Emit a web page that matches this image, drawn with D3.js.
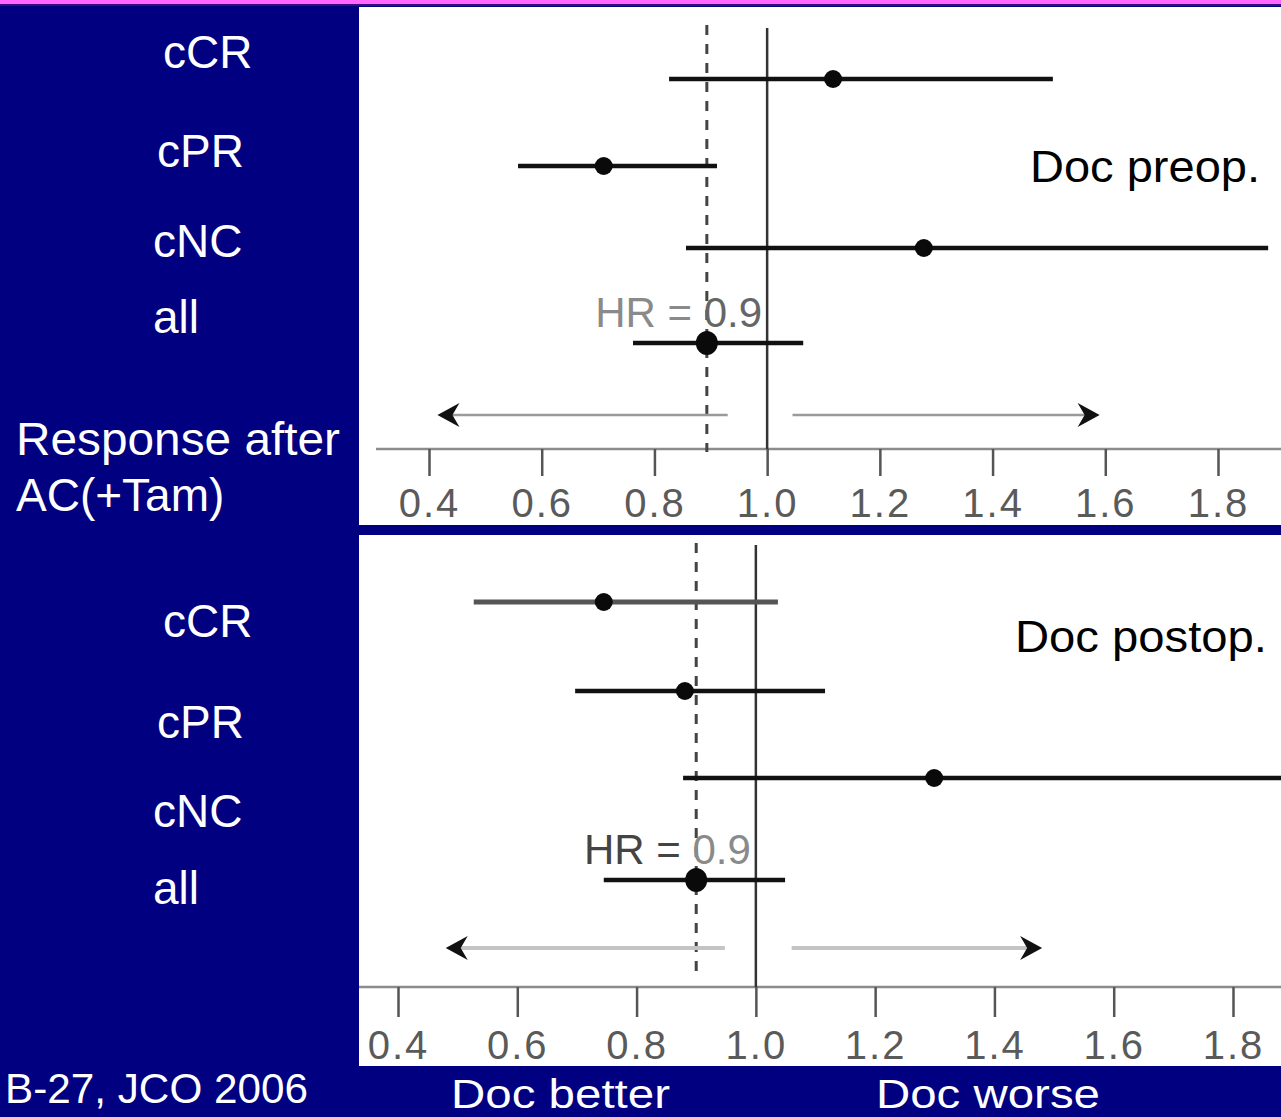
<!DOCTYPE html>
<html><head><meta charset="utf-8">
<script src="https://cdn.jsdelivr.net/npm/d3@7"></script>
<style>
html,body{margin:0;padding:0;background:#000080;overflow:hidden}
svg{display:block}
text{font-family:"Liberation Sans",Arial,sans-serif}
</style></head>
<body>
<script>
// ---- data ----
const categories = ["cCR", "cPR", "cNC", "all"];
const preopHR  = [1.117, 0.710, 1.278, 0.893];
const preopLo  = [0.826, 0.558, 0.856, 0.762];
const preopHi  = [1.507, 0.911, 1.889, 1.064];
const postopHR = [0.745, 0.881, 1.299, 0.900];
const postopLo = [0.527, 0.697, 0.878, 0.745];
const postopHi = [1.037, 1.116, 2.000, 1.049];
const tickValues = [0.4, 0.6, 0.8, 1.0, 1.2, 1.4, 1.6, 1.8];
const tickLabels = ["0.4", "0.6", "0.8", "1.0", "1.2", "1.4", "1.6", "1.8"];
const panelTitles = ["Doc preop.", "Doc postop."];
const hrLabel = ["HR = ", "0.9"];
const sideTitle = ["Response after", "AC(+Tam)"];
const footLeft = "B-27, JCO 2006";
const footBetter = "Doc better";
const footWorse = "Doc worse";
// arrow annotations in HR units [from, tip]
const arrowsPre  = [[0.93, 0.415], [1.045, 1.59]];
const arrowsPost = [[0.948, 0.48], [1.06, 1.48]];

const W = 1281, H = 1117;
const svg = d3.select("body").append("svg").attr("width", W).attr("height", H);
svg.append("rect").attr("width", W).attr("height", H).attr("fill", "#000080");
svg.append("rect").attr("width", W).attr("height", 4).attr("fill", "#ff66ff");
svg.append("rect").attr("y", 4).attr("width", W).attr("height", 2).attr("fill", "#3a0a78");

const panels = [
  { top: 7, bottom: 525, left: 359, xr: [429, 1218], rows: [79, 166, 248, 343], axisY: 449, axisStart: 376,
    tickLen: 27, pad: 13, refTop: 28, dashTop: 25, dashBottom: 452,
    hr: preopHR, lo: preopLo, hi: preopHi, arrows: arrowsPre, arrowY: 415,
    title: panelTitles[0], titleX: 1030, titleY: 182, titleLen: 230,
    hrFill: ["#8a8a8a", "#666"], ciColor: ["#111", "#111", "#111", "#111"], arrowColor: "#9a9a9a", arrowW: 2.5,
    labelX: [163, 157, 153, 153], labelY: [68, 167, 257, 333] },
  { top: 535, bottom: 1066, left: 359, xr: [398, 1233], rows: [602, 691, 778, 880], axisY: 987, axisStart: 359,
    tickLen: 30, pad: 14, refTop: 545, dashTop: 543, dashBottom: 975,
    hr: postopHR, lo: postopLo, hi: postopHi, arrows: arrowsPost, arrowY: 948,
    title: panelTitles[1], titleX: 1015, titleY: 652, titleLen: 252,
    hrFill: ["#444", "#8a8a8a"], ciColor: ["#555", "#111", "#111", "#111"], arrowColor: "#c4c4c4", arrowW: 4,
    labelX: [163, 157, 153, 153], labelY: [637, 738, 827, 904] }
];

panels.forEach((p, pi) => {
  const g = svg.append("g");
  const clipId = "clip" + pi;
  svg.append("clipPath").attr("id", clipId).append("rect")
    .attr("x", p.left).attr("y", p.top).attr("width", W - p.left).attr("height", p.bottom - p.top);
  g.attr("clip-path", `url(#${clipId})`);
  g.append("rect").attr("x", p.left).attr("y", p.top).attr("width", W - p.left).attr("height", p.bottom - p.top).attr("fill", "#fff");

  const x = d3.scaleLinear().domain([0.4, 1.8]).range(p.xr);
  const y = d3.scaleOrdinal().domain(categories).range(p.rows);

  // axis line
  g.append("line").attr("x1", p.axisStart).attr("x2", W).attr("y1", p.axisY).attr("y2", p.axisY)
    .attr("stroke", "#8c8c8c").attr("stroke-width", 2.5);
  const axis = d3.axisBottom(x).tickValues(tickValues).tickFormat((d, i) => tickLabels[i])
    .tickSize(p.tickLen).tickSizeOuter(0).tickPadding(p.pad);
  const ag = g.append("g").attr("transform", `translate(0,${p.axisY})`).call(axis);
  ag.select(".domain").remove();
  ag.selectAll(".tick line").attr("stroke", "#555").attr("stroke-width", 2.5);
  ag.selectAll(".tick text").attr("fill", "#5a5a5a").attr("font-size", 40)
    .attr("font-family", "'Liberation Sans',Arial,sans-serif").attr("letter-spacing", 2);

  // reference line at 1.0
  g.append("line").attr("x1", x(1)).attr("x2", x(1)).attr("y1", p.refTop).attr("y2", p.axisY)
    .attr("stroke", "#333").attr("stroke-width", 2.5);
  // dashed line at pooled HR
  const pooled = p.hr[3];
  g.append("line").attr("x1", x(pooled)).attr("x2", x(pooled)).attr("y1", p.dashTop).attr("y2", p.dashBottom)
    .attr("stroke", "#444").attr("stroke-width", 3).attr("stroke-dasharray", "10,9");

  // CIs
  categories.forEach((c, i) => {
    g.append("line").attr("x1", x(p.lo[i])).attr("x2", x(p.hi[i])).attr("y1", y(c)).attr("y2", y(c))
      .attr("stroke", p.ciColor[i]).attr("stroke-width", i === 0 && pi === 1 ? 5 : 4.5);
    g.append("ellipse").attr("cx", x(p.hr[i])).attr("cy", y(c))
      .attr("rx", i === 3 ? 11 : 9).attr("ry", i === 3 ? 12 : 9).attr("fill", "#0a0a0a");
  });

  // HR label
  const t = g.append("text").attr("x", x(1) - 5).attr("y", y("all") - 16).attr("text-anchor", "end")
    .attr("font-size", 42).attr("font-family", "'Liberation Sans',Arial,sans-serif");
  t.append("tspan").attr("fill", p.hrFill[0]).text(hrLabel[0]);
  t.append("tspan").attr("fill", p.hrFill[1]).text(hrLabel[1]);

  // arrows
  p.arrows.forEach(([from, tip]) => {
    const dir = tip < from ? -1 : 1;
    const xt = x(tip), yy = p.arrowY;
    g.append("line").attr("x1", x(from)).attr("x2", xt - dir * 6).attr("y1", yy).attr("y2", yy)
      .attr("stroke", p.arrowColor).attr("stroke-width", p.arrowW);
    g.append("path")
      .attr("d", `M${xt},${yy} L${xt - dir * 22},${yy - 12} L${xt - dir * 15},${yy} L${xt - dir * 22},${yy + 12} Z`)
      .attr("fill", "#111");
  });

  // panel title
  g.append("text").attr("x", p.titleX).attr("y", p.titleY).attr("font-size", 44).attr("fill", "#000")
    .attr("textLength", p.titleLen).attr("lengthAdjust", "spacingAndGlyphs").text(p.title);

  // category labels on the left
  categories.forEach((c, i) => {
    svg.append("text").attr("x", p.labelX[i]).attr("y", p.labelY[i]).attr("font-size", 46)
      .attr("fill", "#fff").text(c);
  });
});

// side title
svg.append("text").attr("x", 16).attr("y", 455).attr("font-size", 46).attr("fill", "#fff")
  .attr("textLength", 324).attr("lengthAdjust", "spacingAndGlyphs").text(sideTitle[0]);
svg.append("text").attr("x", 16).attr("y", 511).attr("font-size", 46).attr("fill", "#fff").text(sideTitle[1]);

// footer
svg.append("text").attr("x", 5).attr("y", 1103).attr("font-size", 42).attr("fill", "#fff")
  .attr("textLength", 303).attr("lengthAdjust", "spacingAndGlyphs").text(footLeft);
svg.append("text").attr("x", 451).attr("y", 1108).attr("font-size", 40).attr("fill", "#fff")
  .attr("textLength", 219).attr("lengthAdjust", "spacingAndGlyphs").text(footBetter);
svg.append("text").attr("x", 876).attr("y", 1108).attr("font-size", 40).attr("fill", "#fff")
  .attr("textLength", 224).attr("lengthAdjust", "spacingAndGlyphs").text(footWorse);
</script>
</body></html>
